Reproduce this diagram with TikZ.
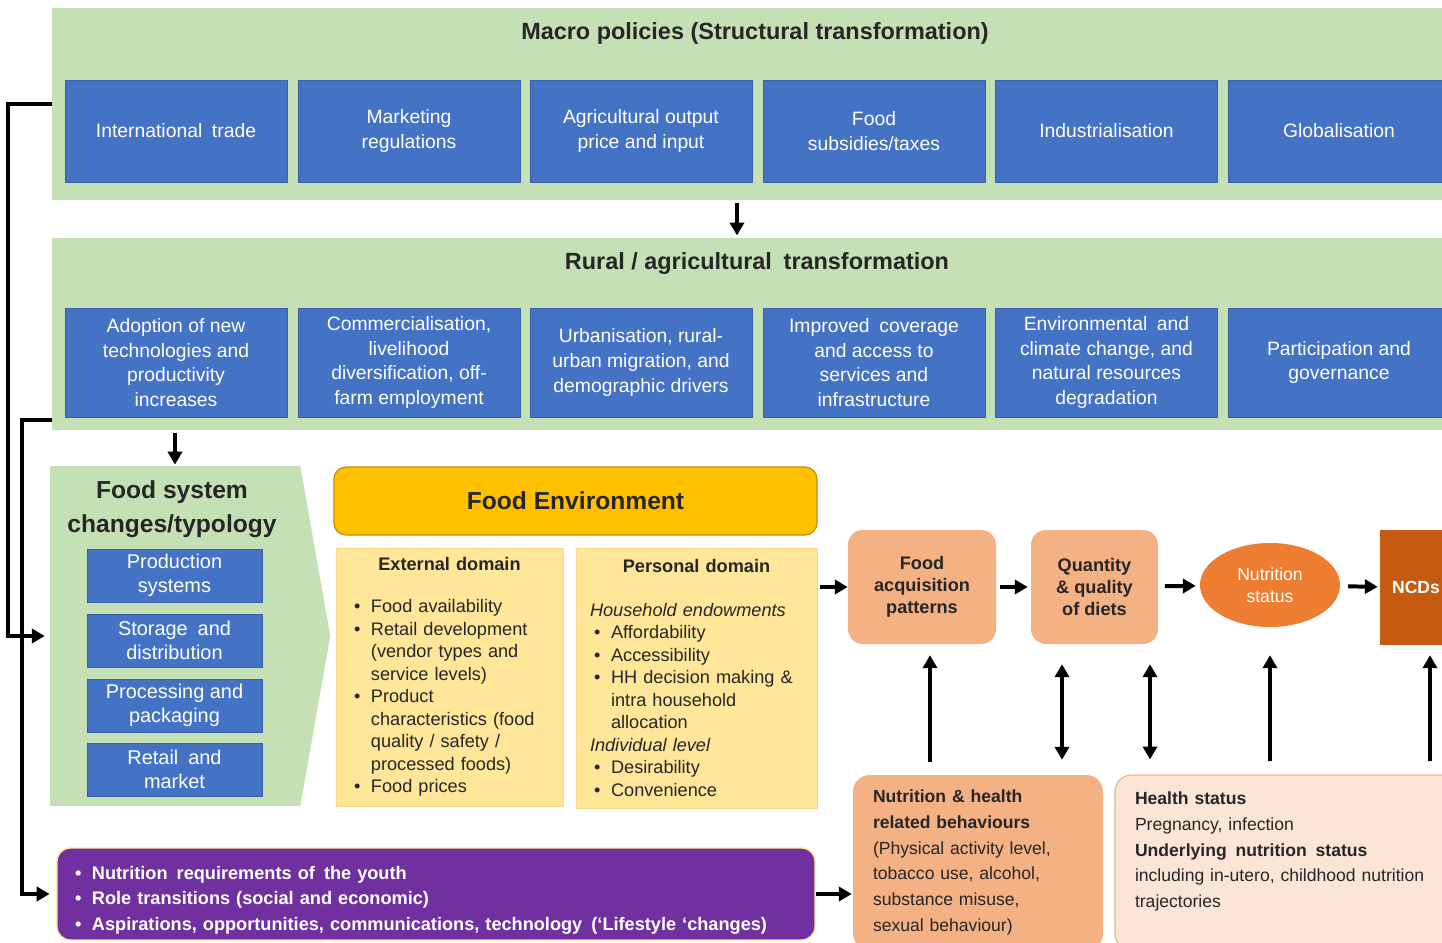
\documentclass[tikz,border=0pt]{standalone}
\usepackage{fontspec}
\setmainfont{Liberation Sans}
\usepackage{enumitem}
\usetikzlibrary{arrows.meta,shapes.geometric}

\definecolor{panelgreen}{HTML}{C5E0B4}
\definecolor{boxblue}{HTML}{4472C4}
\definecolor{envgold}{HTML}{FFC000}
\definecolor{domyellow}{HTML}{FFE699}
\definecolor{lightorange}{HTML}{F4B183}
\definecolor{midorange}{HTML}{ED7D31}
\definecolor{darkorange}{HTML}{C55A11}
\definecolor{palepink}{HTML}{FBE5D6}
\definecolor{youthpurple}{HTML}{7030A0}

\setlist[itemize]{label=\textbullet,leftmargin=14.5pt,labelsep=9pt,itemsep=0pt,topsep=0pt,parsep=0pt,partopsep=0pt}

\begin{document}
\begin{tikzpicture}[x=0.03cm,y=-0.03cm,
  panel/.style={fill=panelgreen,minimum width=42.24cm,minimum height=5.76cm,inner sep=0pt},
  paneltitle/.style={font=\fontsize{20}{24}\selectfont\bfseries,text=black!85},
  policy/.style={fill=boxblue,draw=boxblue!85!black,line width=0.6pt,text=white,align=center,minimum width=6.66cm,inner sep=2pt,font=\fontsize{16.5}{21}\selectfont},
  stage/.style={fill=boxblue,draw=boxblue!85!black,line width=0.6pt,text=white,align=center,minimum width=5.25cm,minimum height=1.59cm,inner sep=1pt,font=\fontsize{17}{21}\selectfont},
  domainbox/.style={fill=domyellow,draw=domyellow!85!orange,line width=0.6pt,minimum height=7.74cm,inner ysep=0pt,font=\fontsize{15.5}{19.2}\selectfont,text=black!85},
  outcome/.style={fill=lightorange,rounded corners=0.45cm,minimum height=3.42cm,align=center,text=black!85,font=\fontsize{15.5}{18.8}\selectfont\bfseries},
  lowbox/.style={rounded corners=0.5cm,minimum height=5.25cm,inner xsep=0.6cm,align=left,text=black!85,font=\fontsize{15}{21.9}\selectfont},
  >={Triangle[length=11pt,width=12pt]},
  flow/.style={->,line width=3.4pt},
  both/.style={<->,line width=3.4pt}]
  \useasboundingbox (0,0) rectangle (1442,942);
  \clip (0,0) rectangle (1442,942);
  \fill[white] (0,0) rectangle (1442,942);

  % Macro policies
  \node[panel] (MacroPanel) at (756,104) {};
  \node[paneltitle] (MacroTitle) at (755,33) {Macro policies (Structural transformation)};
  \node[policy,minimum height=3.06cm] (IntTrade) at (176,131) {International\enspace trade};
  \node[policy,minimum height=3.06cm] (MarketReg) at (409,131) {Marketing\\regulations};
  \node[policy,minimum height=3.06cm] (AgriOutput) at (641,131) {Agricultural output\\price and input};
  \node[policy,minimum height=3.06cm] (FoodSubsidies) at (874,131) {Food\\subsidies/taxes};
  \node[policy,minimum height=3.06cm] (Industrial) at (1106.5,131) {Industrialisation};
  \node[policy,minimum height=3.06cm] (Global) at (1339,131) {Globalisation};

  % Rural / agricultural transformation
  \node[panel] (RuralPanel) at (756,334) {};
  \node[paneltitle] (RuralTitle) at (757,263) {Rural / agricultural\enspace transformation};
  \node[policy,minimum height=3.27cm] (Adoption) at (176,362.5) {Adoption of new\\technologies and\\productivity\\increases};
  \node[policy,minimum height=3.27cm] (Commercial) at (409,362.5) {Commercialisation,\\livelihood\\diversification, off-\\farm employment};
  \node[policy,minimum height=3.27cm] (Urban) at (641,362.5) {Urbanisation, rural-\\urban migration, and\\demographic drivers};
  \node[policy,minimum height=3.27cm] (Coverage) at (874,362.5) {Improved\enspace coverage\\and access to\\services and\\infrastructure};
  \node[policy,minimum height=3.27cm] (Environ) at (1106.5,362.5) {Environmental\enspace and\\climate change, and\\natural resources\\degradation};
  \node[policy,minimum height=3.27cm] (Participation) at (1339,362.5) {Participation and\\governance};

  % Food system changes
  \node[fill=panelgreen,minimum width=7.5cm,minimum height=10.2cm,inner sep=0pt] (FoodSystem) at (175,636) {};
  \fill[panelgreen] (FoodSystem.north east) -- ([xshift=0.9cm]FoodSystem.east) -- (FoodSystem.south east) -- cycle;
  \node[align=center,text=black!85,font=\fontsize{21}{29}\selectfont\bfseries] (FoodSystemTitle) at (172,509) {Food system\\changes/typology};
  \node[stage] (Production) at (174.5,575.5) {Production\\systems};
  \node[stage] (Storage) at (174.5,640.5) {Storage\enspace and\\distribution};
  \node[stage] (Processing) at (174.5,705.5) {Processing and\\packaging};
  \node[stage] (Retail) at (174.5,769.5) {Retail\enspace and\\market};

  % Food environment
  \node[fill=envgold,draw=envgold!75!black,line width=1pt,rounded corners=0.36cm,minimum width=14.49cm,minimum height=2.04cm,text=black!85,font=\fontsize{21}{25}\selectfont\bfseries] (FoodEnv) at (575.5,501) {Food Environment};
  \node[domainbox,text width=5.73cm,inner xsep=0.54cm] (ExternalDom) at (449.5,677) {%
    {\centering\textbf{External domain}\par}\vspace{16.5pt}
    \begin{itemize}
      \item Food availability
      \item Retail development\newline (vendor types and\newline service levels)
      \item Product\newline characteristics (food\newline quality / safety /\newline processed foods)
      \item Food prices
    \end{itemize}};
  \node[domainbox,text width=6.39cm,inner xsep=0.42cm,minimum height=7.8cm] (PersonalDom) at (696.5,678) {%
    {\centering\textbf{Personal domain}\par}\vspace{18pt}
    \textit{Household endowments}
    \begin{itemize}[leftmargin=18pt]
      \item Affordability
      \item Accessibility
      \item HH decision making \&\newline intra household\newline allocation
    \end{itemize}
    \textit{Individual level}
    \begin{itemize}[leftmargin=18pt]
      \item Desirability
      \item Convenience
    \end{itemize}};

  % Diet and nutrition outcomes
  \node[outcome,minimum width=4.44cm] (FoodAcq) at (922,587) {Food\\acquisition\\patterns};
  \node[outcome,minimum width=3.81cm] (DietQuality) at (1094.5,587) {Quantity\\\& quality\\of diets};
  \node[ellipse,fill=midorange,minimum width=4.2cm,minimum height=2.52cm,inner sep=0pt,align=center,text=white,font=\fontsize{15}{19}\selectfont] (NutStatus) at (1270,585) {Nutrition\\status};
  \node[fill=darkorange,minimum width=2.16cm,minimum height=3.45cm,text=white,font=\fontsize{15}{19}\selectfont\bfseries] (NCDs) at (1416,587.5) {NCDs};

  % Behaviour and health status
  \node[lowbox,fill=lightorange,minimum width=7.5cm,text width=6.3cm] (NutBehaviour) at (978,862.5) {%
    \textbf{Nutrition \& health}\\
    \textbf{related behaviours}\\
    (Physical activity level,\\
    tobacco use, alcohol,\\
    substance misuse,\\
    sexual behaviour)};
  \node[lowbox,fill=palepink,draw=lightorange,line width=1pt,minimum width=10.35cm,text width=9.15cm] (HealthStatus) at (1287.5,862.5) {%
    \textbf{Health status}\\
    Pregnancy, infection\\
    \textbf{Underlying\enspace nutrition\enspace status}\\
    including in-utero, childhood nutrition\\
    trajectories\\
    ~};
  \node[fill=youthpurple,draw=domyellow,line width=1.2pt,rounded corners=0.4cm,minimum width=22.74cm,minimum height=2.76cm,text width=21.66cm,inner xsep=0.54cm,text=white,font=\fontsize{15.5}{21.8}\selectfont\bfseries] (Youth) at (436,894) {%
    \begin{itemize}
      \item Nutrition\enspace requirements of\enspace the youth
      \item Role transitions (social and economic)
      \item Aspirations, opportunities, communications, technology\enspace (`Lifestyle `changes)
    \end{itemize}};

  % Connectors
  \draw[flow,shorten <=2pt,shorten >=2pt] ([xshift=-0.57cm]MacroPanel.south) -- ([xshift=-0.57cm]MacroPanel.south |- RuralPanel.north);
  \draw[flow,shorten <=2pt,shorten >=1pt] (FoodSystem.north |- RuralPanel.south) -- (FoodSystem.north);
  \draw[flow,shorten >=0.15cm] (MacroPanel.west) -- ++(-44,0) |- (FoodSystem.west);
  \draw[flow,shorten >=0.2cm] ([yshift=0.3cm]RuralPanel.south west) -- ++(-30,0) |- (Youth.west);
  \draw[flow,shorten <=0.09cm] (FoodAcq.west -| PersonalDom.east) -- (FoodAcq.west);
  \draw[flow,shorten <=0.12cm,shorten >=0.09cm] (FoodAcq) -- (DietQuality);
  \draw[flow,shorten <=0.2cm,shorten >=0.12cm] (DietQuality) -- (NutStatus);
  \draw[flow,shorten <=0.24cm,shorten >=0.06cm] (NutStatus) -- (NCDs);
  \draw[flow,shorten >=0.03cm] (Youth.east) -- (Youth.east -| NutBehaviour.west);
  \draw[flow,shorten <=0.39cm,shorten >=0.33cm] ([xshift=0.24cm]FoodAcq.south |- NutBehaviour.north) -- ([xshift=0.24cm]FoodAcq.south);
  \draw[both,shorten <=0.6cm,shorten >=0.45cm] ([xshift=-0.975cm]DietQuality.south) -- ([xshift=-0.975cm]DietQuality.south |- NutBehaviour.north);
  \draw[both,shorten <=0.6cm,shorten >=0.45cm] ([xshift=1.665cm]DietQuality.south) -- ([xshift=1.665cm]DietQuality.south |- HealthStatus.north);
  \draw[flow,shorten <=0.39cm,shorten >=0.84cm] (NutStatus.south |- HealthStatus.north) -- (NutStatus.south);
  \draw[flow,shorten <=0.39cm,shorten >=0.3cm] ([xshift=0.42cm]NCDs.south |- HealthStatus.north) -- ([xshift=0.42cm]NCDs.south);
\end{tikzpicture}
\end{document}
